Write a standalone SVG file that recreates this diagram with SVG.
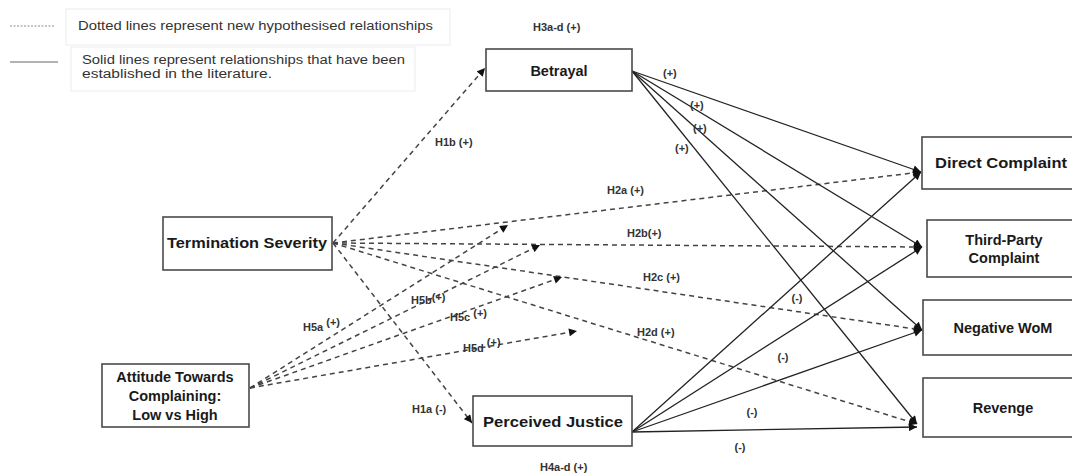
<svg xmlns="http://www.w3.org/2000/svg" width="1072" height="475" viewBox="0 0 1072 475">
<defs>
<style>
.box{fill:#fff;stroke:#4a4a4a;stroke-width:1.6}
.nl{font-family:"Liberation Sans",Arial,sans-serif;font-weight:bold;font-size:14.5px;fill:#1a1a1a;text-anchor:middle}
.lbl{font-family:"Liberation Sans",Arial,sans-serif;font-weight:bold;font-size:11px;fill:#333}
.lg{font-family:"Liberation Sans",Arial,sans-serif;font-size:12px;fill:#333}
.dash{fill:none;stroke:#444;stroke-width:1.5;stroke-dasharray:5 4}
.solid{fill:none;stroke:#222;stroke-width:1.3}
</style>
<marker id="ah" viewBox="0 0 10 10" refX="10" refY="5" markerWidth="9" markerHeight="8" markerUnits="userSpaceOnUse" orient="auto">
<path d="M0,0 L10,5 L0,10 z" fill="#111"/>
</marker>
</defs>
<rect width="1072" height="475" fill="#fff"/>

<g id="legend">
<rect x="66" y="9" width="384" height="36" fill="none" stroke="#ececec"/>
<rect x="71" y="47" width="344" height="44" fill="none" stroke="#ececec"/>
<line x1="10" y1="26" x2="55" y2="26" stroke="#888" stroke-width="1" stroke-dasharray="2 1.5"/>
<line x1="10" y1="62" x2="58" y2="62" stroke="#666" stroke-width="1.2"/>
<text class="lg" x="78" y="30" textLength="355" lengthAdjust="spacingAndGlyphs">Dotted lines represent new hypothesised relationships</text>
<text class="lg" x="82" y="64" textLength="323" lengthAdjust="spacingAndGlyphs">Solid lines represent relationships that have been</text>
<text class="lg" x="82" y="78" textLength="190" lengthAdjust="spacingAndGlyphs">established in the literature.</text>
</g>

<g id="connectors">
<g id="dashed">
<line class="dash" x1="333" y1="243" x2="485" y2="68" marker-end="url(#ah)"/>
<line class="dash" x1="333" y1="243" x2="921" y2="172" marker-end="url(#ah)"/>
<line class="dash" x1="333" y1="243" x2="922" y2="247" marker-end="url(#ah)"/>
<line class="dash" x1="333" y1="243" x2="922" y2="330" marker-end="url(#ah)"/>
<line class="dash" x1="333" y1="243" x2="917" y2="424" marker-end="url(#ah)"/>
<line class="dash" x1="333" y1="243" x2="472" y2="423" marker-end="url(#ah)"/>
<line class="dash" x1="250" y1="388" x2="508" y2="225" marker-end="url(#ah)"/>
<line class="dash" x1="250" y1="388" x2="540" y2="245" marker-end="url(#ah)"/>
<line class="dash" x1="250" y1="388" x2="562" y2="277" marker-end="url(#ah)"/>
<line class="dash" x1="250" y1="388" x2="577" y2="331" marker-end="url(#ah)"/>
</g>
<g id="solid">
<line class="solid" x1="632" y1="71" x2="921" y2="172" marker-end="url(#ah)"/>
<line class="solid" x1="632" y1="71" x2="922" y2="247" marker-end="url(#ah)"/>
<line class="solid" x1="632" y1="71" x2="922" y2="330" marker-end="url(#ah)"/>
<line class="solid" x1="632" y1="71" x2="917" y2="424" marker-end="url(#ah)"/>
<line class="solid" x1="632" y1="432" x2="921" y2="172" marker-end="url(#ah)"/>
<line class="solid" x1="632" y1="432" x2="922" y2="247" marker-end="url(#ah)"/>
<line class="solid" x1="632" y1="432" x2="922" y2="330" marker-end="url(#ah)"/>
<line class="solid" x1="632" y1="432" x2="917" y2="427" marker-end="url(#ah)"/>
</g>
<g id="edge-labels">
<text class="lbl" x="533" y="31">H3a-d (+)</text>
<text class="lbl" x="435" y="146">H1b (+)</text>
<text class="lbl" x="607" y="194">H2a  (+)</text>
<text class="lbl" x="627" y="237">H2b(+)</text>
<text class="lbl" x="643" y="281">H2c  (+)</text>
<text class="lbl" x="637" y="336">H2d  (+)</text>
<text class="lbl" x="303" y="331">H5a <tspan dy="-5">(+)</tspan></text>
<text class="lbl" x="411" y="304">H5b<tspan dy="-3">(+)</tspan></text>
<text class="lbl" x="450" y="321">H5c <tspan dy="-4">(+)</tspan></text>
<text class="lbl" x="463" y="352">H5d <tspan dy="-6">(+)</tspan></text>
<text class="lbl" x="412" y="413">H1a (-)</text>
<text class="lbl" x="540" y="471">H4a-d (+)</text>
<text class="lbl" x="663" y="77">(+)</text>
<text class="lbl" x="690" y="109">(+)</text>
<text class="lbl" x="693" y="132">(+)</text>
<text class="lbl" x="675" y="152">(+)</text>
<text class="lbl" x="797" y="302" text-anchor="middle">(-)</text>
<text class="lbl" x="783" y="361" text-anchor="middle">(-)</text>
<text class="lbl" x="752" y="416" text-anchor="middle">(-)</text>
<text class="lbl" x="740" y="451" text-anchor="middle">(-)</text>
</g>
</g>

<g id="betrayal">
<rect class="box" x="486" y="49" width="146" height="42"/>
<text class="nl" x="559" y="76">Betrayal</text>
</g>
<g id="termination-severity">
<rect class="box" x="163" y="217" width="169" height="53"/>
<text class="nl" x="247" y="248" textLength="160" lengthAdjust="spacingAndGlyphs">Termination Severity</text>
</g>
<g id="attitude">
<rect class="box" x="102" y="364" width="147" height="63"/>
<text class="nl" x="175" y="382">Attitude Towards</text>
<text class="nl" x="175" y="401">Complaining:</text>
<text class="nl" x="175" y="420">Low vs High</text>
</g>
<g id="perceived-justice">
<rect class="box" x="473" y="396" width="159" height="50"/>
<text class="nl" x="553" y="427" textLength="140" lengthAdjust="spacingAndGlyphs">Perceived Justice</text>
</g>
<g id="direct-complaint">
<rect class="box" x="922" y="137" width="160" height="52"/>
<text class="nl" x="1001" y="168" textLength="132" lengthAdjust="spacingAndGlyphs">Direct Complaint</text>
</g>
<g id="third-party-complaint">
<rect class="box" x="927" y="220" width="155" height="57"/>
<text class="nl" x="1004" y="245">Third-Party</text>
<text class="nl" x="1004" y="263">Complaint</text>
</g>
<g id="negative-wom">
<rect class="box" x="923" y="300" width="159" height="55"/>
<text class="nl" x="1003" y="333">Negative WoM</text>
</g>
<g id="revenge">
<rect class="box" x="923" y="378" width="159" height="59"/>
<text class="nl" x="1003" y="413">Revenge</text>
</g>
</svg>
